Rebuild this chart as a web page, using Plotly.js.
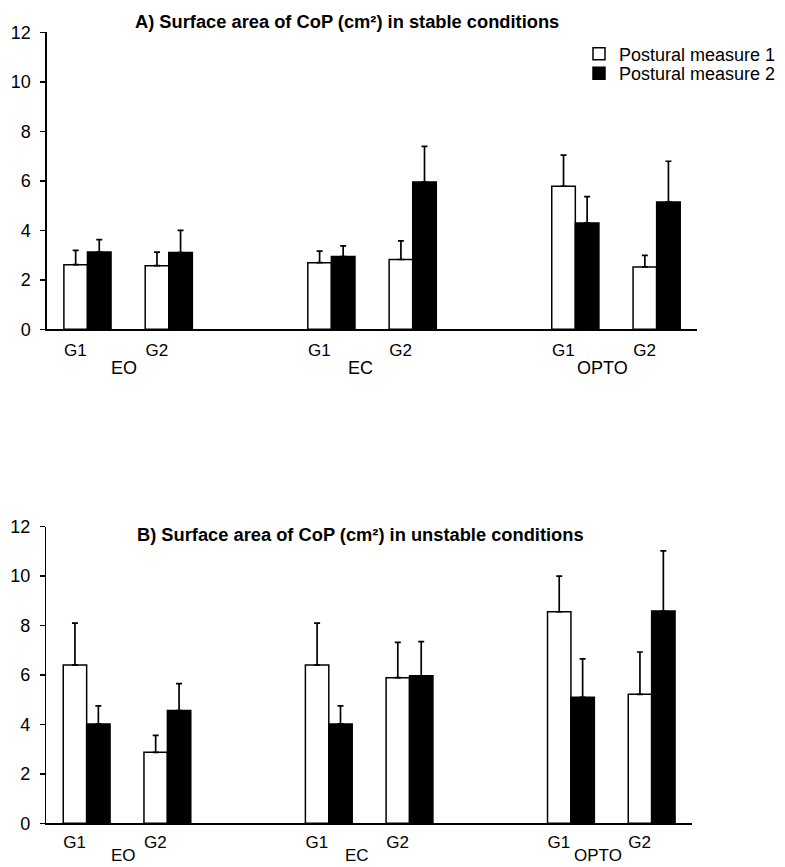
<!DOCTYPE html>
<html>
<head>
<meta charset="utf-8">
<script src="https://cdn.plot.ly/plotly-3.0.1.min.js"></script>
<style>html,body{margin:0;padding:0;background:#fff;}#chart{width:785px;height:867px;}</style>
</head>
<body>
<div id="chart"></div>
<script>
// ---- data ----
var conditions = ['EO', 'EC', 'OPTO'];
var groups = ['G1', 'G2'];
var seriesNames = ['Postural measure 1', 'Postural measure 2'];

// A) stable conditions (order: EO G1, EO G2, EC G1, EC G2, OPTO G1, OPTO G2)
var stableM1 = [2.61, 2.57, 2.69, 2.82, 5.78, 2.52];
var stableM1Err = [0.58, 0.55, 0.47, 0.75, 1.26, 0.47];
var stableM2 = [3.12, 3.10, 2.94, 5.95, 4.29, 5.14];
var stableM2Err = [0.50, 0.90, 0.43, 1.44, 1.07, 1.65];

// B) unstable conditions
var unstableM1 = [6.40, 2.87, 6.40, 5.89, 8.56, 5.22];
var unstableM1Err = [1.70, 0.69, 1.70, 1.43, 1.44, 1.71];
var unstableM2 = [4.02, 4.56, 4.02, 5.97, 5.10, 8.59];
var unstableM2Err = [0.73, 1.09, 0.73, 1.38, 1.55, 2.43];

var yTicks = [0, 2, 4, 6, 8, 10, 12];
var titleA = 'A) Surface area of CoP (cm²) in stable conditions';
var titleB = 'B) Surface area of CoP (cm²) in unstable conditions';

// ---- positions: each condition occupies two slots plus one empty slot ----
var xpos = [], xtext = [];
conditions.forEach(function (c, ci) {
  groups.forEach(function (g, gi) { xpos.push(ci * 3 + gi); xtext.push(g); });
});

// style: horizontal pixel nudges of the condition labels (as in the original figure)
var condShift = [-4, -12, -13];

var FONT = 'Liberation Sans, Arial, sans-serif';
var W = 785, H = 867;
function px(x) { return x / W; }
function py(y) { return 1 - y / H; }

function barTrace(y, err, idx, xa, ya, showleg) {
  var white = idx === 0;
  return {
    type: 'bar', x: xpos, y: y, name: seriesNames[idx],
    xaxis: xa, yaxis: ya, showlegend: showleg,
    legend: idx === 0 ? 'legend' : 'legend2',
    marker: { color: white ? '#ffffff' : '#000000', line: { color: '#000000', width: 1.5 } },
    error_y: { type: 'data', symmetric: false, array: err, arrayminus: y.map(function () { return 0; }),
      color: '#000000', thickness: 1.7, width: 3 },
    hoverinfo: 'skip'
  };
}

var data = [
  barTrace(stableM1, stableM1Err, 0, 'x', 'y', true),
  barTrace(stableM2, stableM2Err, 1, 'x', 'y', true),
  barTrace(unstableM1, unstableM1Err, 0, 'x2', 'y2', false),
  barTrace(unstableM2, unstableM2Err, 1, 'x2', 'y2', false)
];

function xAxis(domain, anchor, standoff) {
  return {
    domain: domain, anchor: anchor, range: [-0.5, 7.5],
    showline: true, linecolor: '#000', linewidth: 1.5, ticks: '',
    tickvals: xpos, ticktext: xtext, ticklabelshift: -12, ticklabelstandoff: standoff,
    tickfont: { family: FONT, size: 17, color: '#000' },
    showgrid: false, zeroline: false, fixedrange: true
  };
}
function yAxis(domain, anchor) {
  return {
    domain: domain, anchor: anchor, range: [0, 12],
    tickvals: yTicks, ticktext: yTicks.map(String),
    showline: true, linecolor: '#000', linewidth: 1.5,
    ticks: 'outside', ticklen: 5, tickwidth: 1.5, tickcolor: '#000', ticklabelstandoff: 6,
    tickfont: { family: FONT, size: 18, color: '#000' },
    showgrid: false, zeroline: false, fixedrange: true
  };
}

var annotations = [
  { text: '<b>' + titleA + '</b>', xref: 'paper', yref: 'paper', x: px(346.5), y: py(22),
    xanchor: 'center', yanchor: 'middle', showarrow: false, font: { family: FONT, size: 18.3, color: '#000' } },
  { text: '<b>' + titleB + '</b>', xref: 'paper', yref: 'paper', x: px(360.5), y: py(534.5),
    xanchor: 'center', yanchor: 'middle', showarrow: false, font: { family: FONT, size: 18.3, color: '#000' } }
];
[['x', 'y domain', -39, 18], ['x2', 'y2 domain', -32, 17]].forEach(function (a) {
  conditions.forEach(function (c, ci) {
    annotations.push({ text: c, xref: a[0], yref: a[1], x: ci * 3 + 0.5, y: 0, yshift: a[2], xshift: condShift[ci],
      xanchor: 'center', yanchor: 'middle', showarrow: false, font: { family: FONT, size: a[3], color: '#000' } });
  });
});

var legendBase = { xanchor: 'left', yanchor: 'middle', bgcolor: 'rgba(0,0,0,0)', borderwidth: 0,
  font: { family: FONT, size: 18, color: '#000' }, itemclick: false, itemdoubleclick: false };

var layout = {
  width: W, height: H, autosize: false,
  margin: { l: 0, r: 0, t: 0, b: 0, pad: 0 },
  paper_bgcolor: '#fff', plot_bgcolor: '#fff',
  barmode: 'group', bargap: 0.42, bargroupgap: 0,
  xaxis: xAxis([px(46.8), px(697.3)], 'y', 5),
  yaxis: yAxis([py(329.3), py(32.3)], 'x'),
  xaxis2: xAxis([px(46.3), px(692)], 'y2', 3),
  yaxis2: yAxis([py(823.3), py(526.7)], 'x2'),
  legend: Object.assign({}, legendBase, { x: px(579), y: py(54) }),
  legend2: Object.assign({}, legendBase, { x: px(579), y: py(73.5) }),
  annotations: annotations,
  showlegend: true
};

Plotly.newPlot('chart', data, layout, { displayModeBar: false, staticPlot: true });
</script>
</body>
</html>
